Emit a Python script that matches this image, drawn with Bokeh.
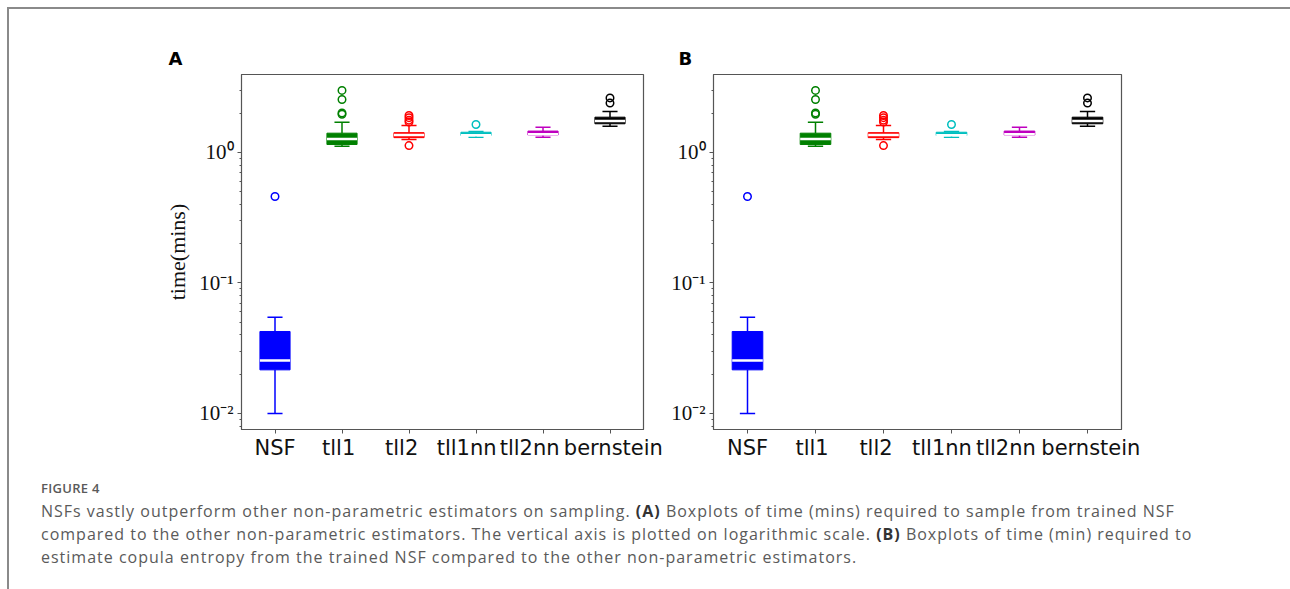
from bokeh.plotting import figure
from bokeh.models import (FixedTicker, CustomJSTickFormatter, Div, Range1d,
                          ColumnDataSource, LinearAxis)
from bokeh.layouts import column, row
from bokeh.embed import file_html
from bokeh.resources import INLINE

# ---------------- data ----------------
categories = ["NSF", "tll1", "tll2", "tll1nn", "tll2nn", "bernstein"]
colors = ["#0000ff", "#008000", "#ff0000", "#00bfbf", "#bf00bf", "#000000"]
q1 = [0.0216, 1.152, 1.30, 1.35, 1.36, 1.66]
median = [0.0255, 1.27, 1.36, 1.356, 1.38, 1.74]
q3 = [0.0425, 1.406, 1.42, 1.43, 1.46, 1.865]
whisker_lo = [0.0100, 1.117, 1.26, 1.31, 1.31, 1.59]
whisker_hi = [0.0547, 1.706, 1.61, 1.45, 1.56, 2.06]
outliers = [
    [0.46],
    [1.96, 2.01, 2.55, 2.99],
    [1.13, 1.71, 1.77, 1.85, 1.92],
    [1.64],
    [],
    [2.39, 2.62],
]
y_ticks = [0.01, 0.1, 1.0]
y_minor = [0.008, 0.009] + [m * 0.01 for m in range(2, 10)] + \
          [m * 0.1 for m in range(2, 10)] + [2.0, 3.0]

# small horizontal nudges of the category labels (as in the reference typesetting)
label_nudge = [0.0, -0.05, -0.11, -0.14, -0.20, 0.05]

BOX_W = 0.45


def make_panel(width, left, right, letter, letter_offset, ylabel=None):
    p = figure(width=width, height=461, y_axis_type="log",
               x_range=Range1d(0.5, 6.5), y_range=Range1d(0.00754, 3.96),
               output_backend="svg", toolbar_location=None,
               min_border_left=left, min_border_right=right,
               min_border_top=65, min_border_bottom=41,
               background_fill_color="white", border_fill_color="white")
    xs = list(range(1, len(categories) + 1))
    src = ColumnDataSource(dict(
        x=xs, q1=q1, q3=q3, med=median, lo=whisker_lo, hi=whisker_hi, color=colors,
        bx0=[x - BOX_W / 2 for x in xs], bx1=[x + BOX_W / 2 for x in xs],
        cx0=[x - BOX_W / 4 for x in xs], cx1=[x + BOX_W / 4 for x in xs],
    ))
    # whiskers
    p.segment(x0="x", y0="q3", x1="x", y1="hi", line_color="color", line_width=1.5, source=src)
    p.segment(x0="x", y0="q1", x1="x", y1="lo", line_color="color", line_width=1.5, source=src)
    # caps
    p.segment(x0="cx0", y0="hi", x1="cx1", y1="hi", line_color="color", line_width=1.5, source=src)
    p.segment(x0="cx0", y0="lo", x1="cx1", y1="lo", line_color="color", line_width=1.5, source=src)
    # boxes
    p.vbar(x="x", width=BOX_W, top="q3", bottom="q1", fill_color="color",
           line_color="color", line_width=1, source=src)
    # medians
    p.segment(x0="bx0", y0="med", x1="bx1", y1="med", line_color="white",
              line_width=2.5, source=src)
    # outliers
    ox, oy, oc = [], [], []
    for i, vals in enumerate(outliers):
        for v in vals:
            ox.append(i + 1)
            oy.append(v)
            oc.append(colors[i])
    p.scatter(x=ox, y=oy, marker="circle", size=7.5, fill_color=None,
              line_color=oc, line_width=1.5)

    p.xgrid.grid_line_color = None
    p.ygrid.grid_line_color = None
    p.outline_line_color = "#555555"
    p.outline_line_width = 1.2

    # x axis: tick marks only
    p.xaxis.ticker = FixedTicker(ticks=xs)
    p.xaxis.formatter = CustomJSTickFormatter(code="return '';")
    p.xaxis.major_label_text_font_size = "0px"
    p.xaxis.major_label_standoff = 0
    p.xaxis.minor_tick_line_color = None
    p.xaxis.major_tick_in = 0
    p.xaxis.major_tick_out = 4
    p.xaxis.axis_line_color = "#555555"
    p.xaxis.major_tick_line_color = "#555555"

    # x axis: category names
    lab_ticks = [x + d for x, d in zip(xs, label_nudge)]
    lab_axis = LinearAxis(
        ticker=FixedTicker(ticks=lab_ticks),
        formatter=CustomJSTickFormatter(
            args=dict(pos=lab_ticks, names=categories),
            code="""
                let best = 0, bd = 1e9;
                for (let i = 0; i < pos.length; i++) {
                    const d = Math.abs(pos[i] - tick);
                    if (d < bd) { bd = d; best = i; }
                }
                return bd < 0.01 ? names[best] : '';
            """),
        axis_line_color=None, major_tick_line_color=None, minor_tick_line_color=None,
        major_tick_out=0, major_tick_in=0,
        major_label_text_font="DejaVu Sans", major_label_text_font_size="21px",
        major_label_text_color="#111111", major_label_standoff=2)
    p.add_layout(lab_axis, "below")

    p.yaxis.ticker = FixedTicker(ticks=y_ticks, minor_ticks=y_minor)
    p.yaxis.formatter = CustomJSTickFormatter(code="""
        const sup = {'-': '\u207b', '0': '\u2070', '1': '\u00b9', '2': '\u00b2', '3': '\u00b3',
                     '4': '\u2074', '5': '\u2075', '6': '\u2076', '7': '\u2077', '8': '\u2078', '9': '\u2079'};
        const e = Math.round(Math.log10(tick));
        return '10' + String(e).split('').map(c => sup[c]).join('');
    """)
    p.yaxis.major_label_text_font = "Liberation Serif"
    p.yaxis.major_label_text_font_size = "21px"
    p.yaxis.major_label_text_color = "#111111"
    p.yaxis.major_label_standoff = 4
    p.yaxis.major_tick_in = 0
    p.yaxis.major_tick_out = 4
    p.yaxis.minor_tick_in = 0
    p.yaxis.minor_tick_out = 2
    p.yaxis.axis_line_color = "#555555"
    p.yaxis.major_tick_line_color = "#555555"
    p.yaxis.minor_tick_line_color = "#555555"
    if ylabel:
        p.yaxis.axis_label = ylabel
        p.yaxis.axis_label_text_font = "Liberation Serif"
        p.yaxis.axis_label_text_font_style = "normal"
        p.yaxis.axis_label_text_font_size = "22px"
        p.yaxis.axis_label_text_color = "#111111"
        p.yaxis.axis_label_standoff = 6

    p.title.text = letter
    p.title.align = "left"
    p.title.offset = letter_offset
    p.title.text_font = "DejaVu Sans"
    p.title.text_font_style = "bold"
    p.title.text_font_size = "18px"
    p.title.text_color = "black"
    p.title.standoff = 12
    return p


# panel A spans x 9..664, panel B 664..1290 (frames at 241-643 and 713-1121)
pA = make_panel(655, 232, 21, "A", -73, ylabel="time(mins)")
pB = make_panel(626, 49, 169, "B", -35)

caption_html = (
    '<div style="font-family:\'Open Sans\',sans-serif;color:#5a5a5a;padding-left:27px;'
    'white-space:nowrap;">'
    '<div style="font-size:13px;font-weight:600;line-height:20px;margin-top:3px;'
    'letter-spacing:0.3px;">FIGURE 4</div>'
    '<div style="font-size:16px;line-height:23px;letter-spacing:1.0px;margin-top:2px;">'
    'NSFs vastly outperform other non-parametric estimators on sampling. '
    '<b style="color:#333">(A)</b> Boxplots of time (mins) required to sample from trained NSF<br>'
    'compared to the other non-parametric estimators. The vertical axis is plotted on logarithmic scale. '
    '<b style="color:#333">(B)</b> Boxplots of time (min) required to<br>'
    'estimate copula entropy from the trained NSF compared to the other non-parametric estimators.'
    '</div></div>'
)
cap = Div(text=caption_html, width=1281, height=119)

lay = column(row(pA, pB, spacing=0), cap, spacing=0,
             styles={"margin-left": "7px", "margin-top": "7px",
                     "border-left": "2px solid #8a8a8a", "border-top": "2px solid #8a8a8a"})

open("out.html", "w").write(file_html(lay, INLINE))
